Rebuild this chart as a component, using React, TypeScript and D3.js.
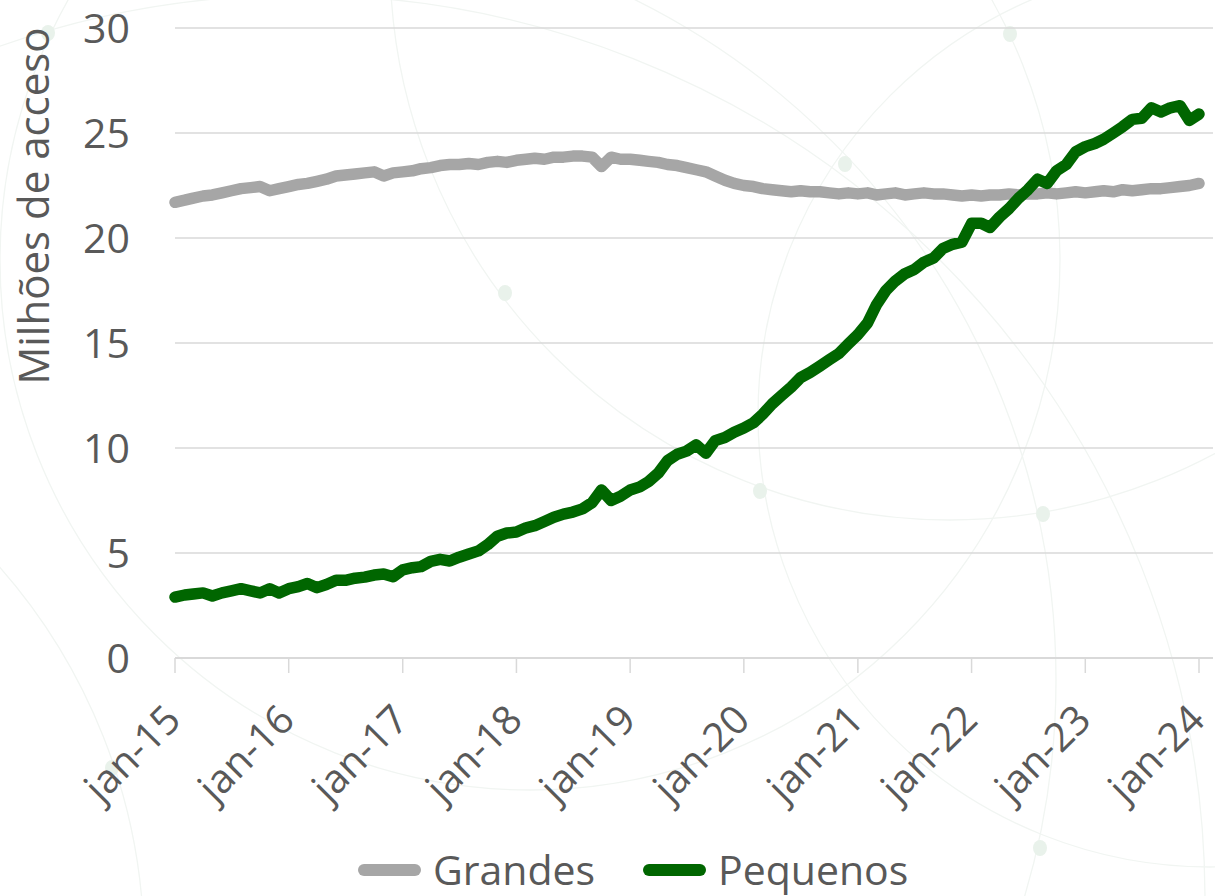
import * as React from 'react';
import * as d3 from 'd3';

// monthly series, jan-15 .. jan-24 (millions of accesses)
const grandes = [
  21.7, 21.8, 21.9, 22.0, 22.05, 22.15, 22.25, 22.35, 22.4, 22.45, 22.25, 22.35,
  22.45, 22.55, 22.6, 22.7, 22.8, 22.95, 23.0, 23.05, 23.1, 23.15, 22.95, 23.1,
  23.15, 23.2, 23.3, 23.35, 23.45, 23.5, 23.5, 23.55, 23.5, 23.6, 23.65, 23.6,
  23.7, 23.75, 23.8, 23.75, 23.85, 23.85, 23.9, 23.9, 23.85, 23.4, 23.85, 23.75,
  23.75, 23.7, 23.65, 23.6, 23.5, 23.45, 23.35, 23.25, 23.15, 22.95, 22.75, 22.6,
  22.5, 22.45, 22.35, 22.3, 22.25, 22.2, 22.25, 22.2, 22.2, 22.15, 22.1, 22.15,
  22.1, 22.15, 22.05, 22.1, 22.15, 22.05, 22.1, 22.15, 22.1, 22.1, 22.05, 22.0,
  22.05, 22.0, 22.05, 22.05, 22.1, 22.05, 22.1, 22.1, 22.15, 22.1, 22.15, 22.2,
  22.15, 22.2, 22.25, 22.2, 22.3, 22.25, 22.3, 22.35, 22.35, 22.4, 22.45, 22.5,
  22.6,
];

const pequenos = [
  2.9, 3.0, 3.05, 3.1, 2.95, 3.1, 3.2, 3.3, 3.2, 3.1, 3.3, 3.1,
  3.3, 3.4, 3.55, 3.35, 3.5, 3.7, 3.7, 3.8, 3.85, 3.95, 4.0, 3.87,
  4.2, 4.3, 4.35, 4.6, 4.7, 4.62, 4.8, 4.95, 5.1, 5.4, 5.8, 5.95,
  6.0, 6.2, 6.3, 6.5, 6.7, 6.85, 6.95, 7.1, 7.4, 8.0, 7.5, 7.7,
  8.0, 8.15, 8.4, 8.8, 9.4, 9.7, 9.85, 10.15, 9.75, 10.35, 10.5, 10.75,
  10.95, 11.2, 11.6, 12.1, 12.5, 12.9, 13.35, 13.6, 13.9, 14.2, 14.5, 14.95,
  15.4, 15.95, 16.8, 17.5, 17.95, 18.3, 18.5, 18.85, 19.05, 19.5, 19.7, 19.8,
  20.7, 20.7, 20.5, 21.0, 21.4, 21.9, 22.3, 22.8, 22.6, 23.2, 23.5, 24.1,
  24.35, 24.5, 24.7, 25.0, 25.3, 25.65, 25.7, 26.2, 26.0, 26.2, 26.3, 25.6,
  25.9,
];

const months = d3.timeMonth.range(new Date(2015, 0, 1), new Date(2024, 1, 1));
const yTicks = [0, 5, 10, 15, 20, 25, 30];
const seriesNames = ['Grandes', 'Pequenos'];
const colors = ['#a6a6a6', '#006600'];

// faint theme decoration (circles + dots)
const decoCircles = [
  [950, -40, 560],
  [296, 680, 760],
  [1210, 415, 452],
  [-436, 950, 580],
  [530, 260, 530],
  [300, 900, 905],
];
const decoDots = [
  [505, 293], [845, 164], [760, 491], [1043, 514], [1040, 848],
  [1010, 34], [48, 33], [112, 768],
];

const font = "'Open Sans', 'Noto Sans', sans-serif";
const textColor = '#595959';

const App = () => {
  const x = d3
    .scaleTime()
    .domain([new Date(2015, 0, 1), new Date(2024, 0, 1)])
    .range([175, 1199]);
  const y = d3.scaleLinear().domain([0, 30]).range([658, 28]);
  const line = d3
    .line<number>()
    .x((d, i) => x(months[i]))
    .y((d) => y(d));
  const years = x.ticks(d3.timeYear.every(1));
  const fmt = d3.timeFormat('%y');

  return (
    <svg
      width={1215}
      height={896}
      style={{ position: 'absolute', left: 0, top: 0, background: '#fff' }}
      fontFamily={font}>
      <g className='deco' fill='none' stroke='#f1f5f2' strokeWidth={1.3}>
        {decoCircles.map(([cx, cy, r], i) => (
          <circle key={i} cx={cx} cy={cy} r={r} />
        ))}
      </g>
      <g className='deco-dots' fill='#e9f2eb'>
        {decoDots.map(([cx, cy], i) => (
          <ellipse key={i} cx={cx} cy={cy} rx={7} ry={8} />
        ))}
      </g>

      <g className='grid'>
        {yTicks.map((t) => (
          <line
            key={t}
            x1={175}
            x2={1213}
            y1={y(t)}
            y2={y(t)}
            stroke='#d9d9d9'
            strokeWidth={t === 0 ? 2 : 1.5}
          />
        ))}
        {years.map((d, i) => (
          <line
            key={i}
            x1={x(d)}
            x2={x(d)}
            y1={y(0)}
            y2={y(0) + 15}
            stroke='#d9d9d9'
            strokeWidth={1.5}
          />
        ))}
      </g>

      <g className='y-labels' fontSize={41} fill={textColor} textAnchor='end'>
        {yTicks.map((t) => (
          <text key={t} x={130} y={y(t)} dy='0.36em'>
            {t}
          </text>
        ))}
      </g>
      <text
        transform='translate(49 206) rotate(-90)'
        textAnchor='middle'
        fontSize={42}
        fill={textColor}>
        Milhões de acceso
      </text>

      <g className='x-labels' fontSize={40} fill={textColor} textAnchor='end'>
        {years.map((d, i) => (
          <text
            key={i}
            transform={`translate(${x(d) + 8} 722) rotate(-45)`}>
            {'jan-' + fmt(d)}
          </text>
        ))}
      </g>

      {[grandes, pequenos].map((s, i) => (
        <path
          key={i}
          d={line(s) || ''}
          fill='none'
          stroke={colors[i]}
          strokeWidth={11.5}
          strokeLinejoin='round'
          strokeLinecap='round'
        />
      ))}

      <g className='legend' fontSize={41} fill={textColor}>
        {seriesNames.map((name, i) => {
          const x0 = i === 0 ? 358 : 643;
          return (
            <g key={name}>
              <line
                x1={x0 + 6}
                x2={x0 + 57}
                y1={870}
                y2={870}
                stroke={colors[i]}
                strokeWidth={12}
                strokeLinecap='round'
              />
              <text x={x0 + 75} y={885}>
                {name}
              </text>
            </g>
          );
        })}
      </g>
    </svg>
  );
};

export default App;
